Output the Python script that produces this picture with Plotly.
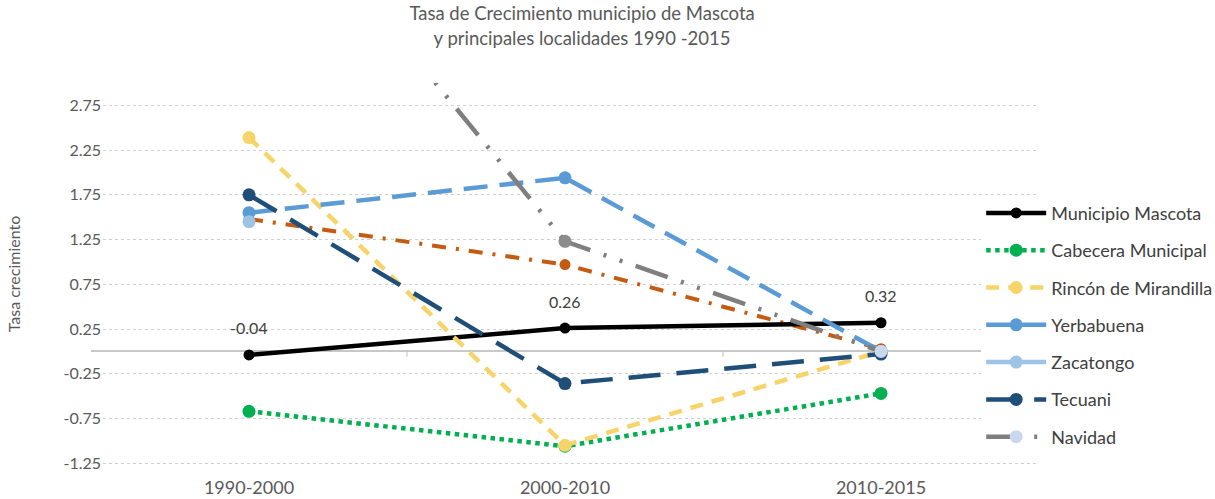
import plotly.graph_objects as go

periods = ["1990-2000", "2000-2010", "2010-2015"]

municipio_mascota = [-0.04, 0.26, 0.32]
cabecera_municipal = [-0.67, -1.06, -0.47]
rincon_mirandilla = [2.39, -1.05, 0.00]
yerbabuena = [1.55, 1.94, 0.00]
zacatongo = [1.45, None, 0.00]
tecuani = [1.75, -0.36, -0.03]
navidad = [5.55, 1.23, 0.00]
otra_localidad = [1.48, 0.97, 0.03]

y_ticks = [-1.25, -0.75, -0.25, 0.25, 0.75, 1.25, 1.75, 2.25, 2.75]

font = "Lato, 'Open Sans', sans-serif"

series = [
    # name, values, line colour, marker colour, dash, width, marker size, showlegend
    ("Otra localidad", otra_localidad, "#c55a11", "#c55a11", "14px,10px,3px,10px", 4, 11, False),
    ("Municipio Mascota", municipio_mascota, "#000000", "#000000", "solid", 4.5, 11, True),
    ("Cabecera Municipal", cabecera_municipal, "#00b050", "#00b050", "dot", 4.5, 13, True),
    ("Rincón de Mirandilla", rincon_mirandilla, "#f7d46a", "#f7d46a", "13px,9px", 4.5, 13, True),
    ("Yerbabuena", yerbabuena, "#5b9bd5", "#5b9bd5", "24px,12px", 4.5, 13, True),
    ("Zacatongo", zacatongo, "#9dc3e6", "#9dc3e6", "24px,12px", 4.5, 13, True),
    ("Tecuani", tecuani, "#1f4e79", "#1f4e79", "32px,16px", 4.5, 13, True),
    ("Navidad", navidad, "#7f7f7f", ["#c9d8ef", "#8c8c8c", "#c9d8ef"],
     "34px,14px,3px,14px,3px,14px", 4.5, 13, True),
]

fig = go.Figure()
for name, vals, lc, mc, dash, w, ms, sl in series:
    fig.add_trace(go.Scatter(
        x=periods, y=vals, name=name, mode="lines+markers",
        line=dict(color=lc, width=w, dash=dash),
        marker=dict(color=mc, size=ms),
        showlegend=sl, legendgroup=name, connectgaps=False,
    ))

# data labels for the municipality series
for p, v in zip(periods, municipio_mascota):
    fig.add_annotation(x=p, y=v, text=f"{v:.2f}", showarrow=False, yshift=27,
                       font=dict(family=font, size=16, color="#404040"))

# small category boundary ticks on the zero line
for b in [0.5, 1.5]:
    fig.add_shape(type="line", xref="x", yref="y", x0=b, x1=b, y0=0, y1=-0.06,
                  line=dict(color="#bfbfbf", width=1))

fig.update_layout(
    width=1215, height=499,
    margin=dict(l=91, r=176, t=83, b=34, autoexpand=False),
    paper_bgcolor="white", plot_bgcolor="white",
    title=dict(text="Tasa de Crecimiento municipio de Mascota<br>y principales localidades 1990 -2015",
               x=0.518, xref="paper", xanchor="center", y=0.959, yref="container", yanchor="middle",
               font=dict(family=font, size=18.5, color="#595959")),
    legend=dict(x=0.939, xanchor="left", y=0.366, yref="paper", yanchor="middle",
                bgcolor="white", font=dict(family=font, size=18, color="#404040"),
                tracegroupgap=10.9, traceorder="grouped", itemwidth=60),
    showlegend=True,
)
fig.update_xaxes(range=[-0.5, 2.5], showgrid=False, zeroline=False, showline=False,
                 ticks="", automargin=False, ticklabelstandoff=10,
                 tickfont=dict(family=font, size=18, color="#595959"))
fig.update_yaxes(range=[-1.27, 3.0], tickmode="array", tickvals=y_ticks,
                 ticktext=[f"{t:.2f}" for t in y_ticks], automargin=False,
                 ticks="", ticklabelstandoff=-11,
                 showgrid=True, gridcolor="#d0d0d0", griddash="dot", gridwidth=1,
                 zeroline=True, zerolinecolor="#c8c8c8", zerolinewidth=1.5,
                 tickfont=dict(family=font, size=16, color="#595959"),
                 title=dict(text="Tasa crecimiento", font=dict(family=font, size=16, color="#595959"),
                            standoff=38))
fig.write_html("out.html", post_script="document.body.style.margin='0';",
               config={"displayModeBar": False})
